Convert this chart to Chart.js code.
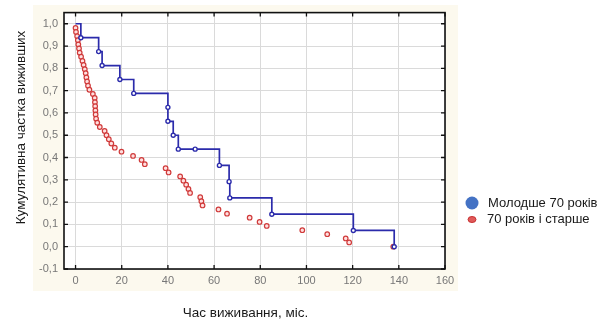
<!DOCTYPE html>
<html><head><meta charset="utf-8">
<script src="https://cdn.jsdelivr.net/npm/chart.js@4.4.1/dist/chart.umd.min.js"></script>
<style>html,body{margin:0;padding:0;background:#fff;}#wrap{width:600px;height:322px;position:relative}</style>
</head><body><div id="wrap"><canvas id="c" width="600" height="322"></canvas></div>
<script>
// Survival time (months) and cumulative proportion surviving
const youngTimes = [0, 2.3, 10, 11.5, 19.2, 25.2, 40, 40, 42.3, 44.5, 51.8, 62.3, 66.5, 66.8, 85, 120.3, 138];
const youngSurv  = [1.0, 0.9375, 0.875, 0.8125, 0.75, 0.6875, 0.625, 0.5625, 0.5, 0.4375, 0.4375, 0.3646, 0.2917, 0.2188, 0.1458, 0.0729, 0.0];

const oldTimes = [0, 0.2, 0.7, 1.0, 1.2, 1.5, 1.8, 2.4, 3.0, 3.5, 4.0, 4.4, 4.7, 5.0, 5.4, 6.0, 7.5, 8.3, 8.4, 8.5,
                  8.6, 8.7, 8.9, 9.4, 10.5, 12.6, 13.4, 14.4, 15.5, 17.0, 19.9, 24.9, 28.6, 30.0, 39.0, 40.3, 45.3, 46.7, 47.9, 48.9,
                  49.6, 54.0, 54.5, 55.0, 61.9, 65.6, 75.4, 79.7, 82.8, 98.2, 109.0, 117.0, 118.5, 137.6];
const oldSurv  = [0.981, 0.963, 0.944, 0.926, 0.907, 0.889, 0.870, 0.852, 0.833, 0.815, 0.796, 0.778, 0.759, 0.741, 0.722, 0.704, 0.685, 0.667, 0.648, 0.630,
                  0.611, 0.593, 0.574, 0.556, 0.537, 0.519, 0.500, 0.482, 0.463, 0.444, 0.426, 0.407, 0.389, 0.370, 0.352, 0.333, 0.315, 0.296, 0.278, 0.259,
                  0.241, 0.222, 0.204, 0.185, 0.167, 0.148, 0.130, 0.111, 0.093, 0.074, 0.056, 0.037, 0.019, 0.0];

const seriesNames = ['Молодше 70 років', '70 років і старше'];
const xTicks = [0, 20, 40, 60, 80, 100, 120, 140, 160];
const xTickLabels = ['0', '20', '40', '60', '80', '100', '120', '140', '160'];
const yTicks = [-0.1, 0.0, 0.1, 0.2, 0.3, 0.4, 0.5, 0.6, 0.7, 0.8, 0.9, 1.0];
const yTickLabels = ['-0,1', '0,0', '0,1', '0,2', '0,3', '0,4', '0,5', '0,6', '0,7', '0,8', '0,9', '1,0'];
const xTitle = 'Час виживання, міс.';
const yTitle = 'Кумулятивна частка виживших';

const FONT = '"Liberation Sans", Arial, sans-serif';
const BLUE = '#2b2bab';
const RED = '#d03a3a';

const bgPlugin = {
  id: 'bg',
  beforeDraw(chart) {
    const ctx = chart.ctx, a = chart.chartArea;
    ctx.save();
    ctx.fillStyle = '#ffffff';
    ctx.fillRect(0, 0, chart.width, chart.height);
    ctx.fillStyle = '#fcf9ee';
    ctx.fillRect(33, 5, 425, 286);
    ctx.fillStyle = '#ffffff';
    ctx.fillRect(a.left, a.top, a.right - a.left, a.bottom - a.top);
    ctx.restore();
  }
};

const framePlugin = {
  id: 'frame',
  afterDraw(chart) {
    const ctx = chart.ctx, a = chart.chartArea;
    const xs = chart.scales.x, ys = chart.scales.y;
    ctx.save();
    ctx.strokeStyle = '#111';
    ctx.lineWidth = 1.6;
    ctx.strokeRect(a.left, a.top, a.right - a.left, a.bottom - a.top);
    ctx.lineWidth = 1.3;
    ctx.beginPath();
    xTicks.forEach(v => {
      const px = xs.getPixelForValue(v);
      ctx.moveTo(px, a.top); ctx.lineTo(px, a.top + 4);
      ctx.moveTo(px, a.bottom); ctx.lineTo(px, a.bottom - 4);
    });
    yTicks.forEach(v => {
      const py = ys.getPixelForValue(v);
      ctx.moveTo(a.left, py); ctx.lineTo(a.left + 4, py);
      ctx.moveTo(a.right, py); ctx.lineTo(a.right - 4, py);
    });
    ctx.stroke();

    // axis titles
    ctx.fillStyle = '#1a1a1a';
    ctx.textAlign = 'center';
    ctx.textBaseline = 'middle';
    ctx.font = '13.5px ' + FONT;
    ctx.fillText(xTitle, 245.5, 313);
    ctx.save();
    ctx.translate(21, 127.5);
    ctx.rotate(-Math.PI / 2);
    ctx.fillText(yTitle, 0, 0);
    ctx.restore();

    // legend
    ctx.textAlign = 'left';
    ctx.fillStyle = '#4472c4';
    ctx.beginPath(); ctx.arc(472, 203, 6.5, 0, Math.PI * 2); ctx.fill();
    ctx.fillStyle = '#e05a5a';
    ctx.strokeStyle = '#c83030';
    ctx.lineWidth = 1;
    ctx.beginPath(); ctx.ellipse(472, 219.5, 4, 3, 0, 0, Math.PI * 2); ctx.fill(); ctx.stroke();
    ctx.fillStyle = '#1a1a1a';
    ctx.font = '13px ' + FONT;
    ctx.fillText(seriesNames[0], 488, 203);
    ctx.fillText(seriesNames[1], 487, 219.5);
    ctx.restore();
  }
};

const youngData = youngTimes.map((t, i) => ({x: t, y: youngSurv[i]}));
const oldData = oldTimes.map((t, i) => ({x: t, y: oldSurv[i]}));

new Chart(document.getElementById('c'), {
  type: 'scatter',
  data: {
    datasets: [
      {
        label: seriesNames[0], data: youngData, showLine: true, stepped: true,
        borderColor: BLUE, borderWidth: 1.7, fill: false,
        pointRadius: c => c.dataIndex === 0 ? 0 : 2,
        pointBackgroundColor: '#ffffff', pointBorderColor: BLUE, pointBorderWidth: 1.4
      },
      {
        label: seriesNames[1], data: oldData, showLine: false,
        pointRadius: 2.3, pointBorderColor: RED, pointBackgroundColor: 'rgba(255,220,220,0.9)', pointBorderWidth: 1.2
      }
    ]
  },
  options: {
    responsive: false, animation: false, devicePixelRatio: 1,
    layout: {padding: {left: 0, top: 12, right: 155, bottom: 0}},
    plugins: {legend: {display: false}, tooltip: {enabled: false}},
    scales: {
      x: {
        type: 'linear', min: -5, max: 160,
        afterBuildTicks: s => { s.ticks = xTicks.map(v => ({value: v})); },
        afterFit: s => { s.height = 53; },
        grid: {color: '#dadada', lineWidth: 1, drawTicks: false},
        border: {display: false},
        ticks: {padding: 5, color: '#777', font: {family: FONT, size: 11}, autoSkip: false, maxRotation: 0,
                callback: (v, i) => xTickLabels[i]}
      },
      y: {
        type: 'linear', min: -0.1, max: 1.05,
        afterBuildTicks: s => { s.ticks = yTicks.map(v => ({value: v})); },
        afterFit: s => { s.width = 64; },
        grid: {color: '#dadada', lineWidth: 1, drawTicks: false},
        border: {display: false},
        ticks: {padding: 6, color: '#777', font: {family: FONT, size: 11}, autoSkip: false,
                callback: (v, i) => yTickLabels[i]}
      }
    }
  },
  plugins: [bgPlugin, framePlugin]
});
</script>
</body></html>
